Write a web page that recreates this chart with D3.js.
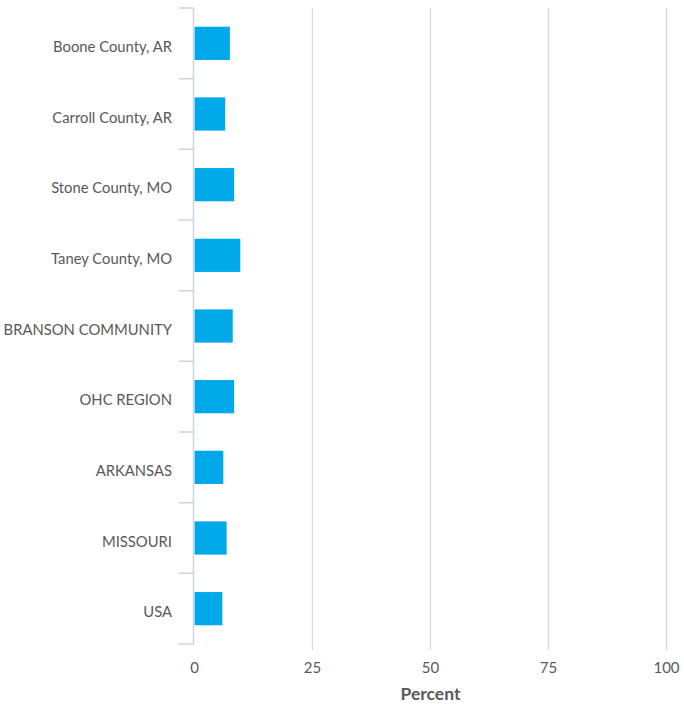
<!DOCTYPE html>
<html>
<head>
<meta charset="utf-8">
<script src="https://cdn.jsdelivr.net/npm/d3@7"></script>
<style>
  body { margin: 0; background: #fff; }
  svg text { font-family: "Source Sans Pro", Lato, "Open Sans", sans-serif; fill: #595959; }
</style>
</head>
<body>
<div id="chart"></div>
<script>
// categories top to bottom
const categories = ["Boone County, AR", "Carroll County, AR", "Stone County, MO", "Taney County, MO",
      "BRANSON COMMUNITY", "OHC REGION", "ARKANSAS", "MISSOURI", "USA"];
// percent values
const values = [7.5, 6.5, 8.4, 9.7, 8.1, 8.4, 6.1, 6.8, 5.9];
const xTicks = [0, 25, 50, 75, 100];
const xTitle = "Percent";

const w = 684;
const h = 704;
const plotLeft = 194.5, plotRight = 666.5, plotTop = 8, plotBottom = 644;

const data = categories.map((c, i) => ({ name: c, value: values[i] }));

const svg = d3.select("#chart")
      .append("svg")
      .attr("width", w)
      .attr("height", h);

const x = d3.scaleLinear().domain([0, 100]).range([plotLeft, plotRight]);
const y = d3.scaleBand().domain(categories).range([plotTop, plotBottom]).paddingInner(0.53).paddingOuter(0.265);
const band = d3.scaleBand().domain(categories).range([plotTop, plotBottom]);

//vertical gridlines
svg.selectAll(".grid")
      .data(xTicks.filter(d => d > 0))
      .enter()
      .append("line")
      .attr("x1", d => x(d))
      .attr("x2", d => x(d))
      .attr("y1", plotTop)
      .attr("y2", plotBottom + 6)
      .style("stroke", "#d9d9d9")
      .style("stroke-width", 1.3);

//bars
svg.selectAll(".bar")
      .data(data)
      .enter()
      .append("rect")
      .attr("x", x(0))
      .attr("y", d => y(d.name))
      .attr("width", d => x(d.value) - x(0))
      .attr("height", y.bandwidth())
      .style("fill", "#00a9ea");

//left axis line + ticks between categories
const axisColor = "#c9d5e3";
svg.append("line")
      .attr("x1", plotLeft - 1).attr("x2", plotLeft - 1)
      .attr("y1", plotTop).attr("y2", plotBottom)
      .style("stroke", axisColor)
      .style("stroke-width", 1.5);

const boundaries = categories.map(c => band(c)).concat([plotBottom]);
svg.selectAll(".ytick")
      .data(boundaries)
      .enter()
      .append("line")
      .attr("x1", plotLeft - 16)
      .attr("x2", plotLeft - 1)
      .attr("y1", d => d)
      .attr("y2", d => d)
      .style("stroke", axisColor)
      .style("stroke-width", 1.5);

//category labels
svg.selectAll(".ylabel")
      .data(categories)
      .enter()
      .append("text")
      .attr("x", 172)
      .attr("y", d => band(d) + band.bandwidth() / 2 + 3.5)
      .attr("dy", "0.35em")
      .attr("text-anchor", "end")
      .style("font-size", "14.8px")
      .text(d => d);

//x tick labels
svg.selectAll(".xlabel")
      .data(xTicks)
      .enter()
      .append("text")
      .attr("x", d => x(d))
      .attr("y", 668)
      .attr("dy", "0.35em")
      .attr("text-anchor", "middle")
      .style("font-size", "15px")
      .text(d => d);

svg.append("text")
      .attr("x", (plotLeft + plotRight) / 2)
      .attr("y", 694)
      .attr("dy", "0.35em")
      .attr("text-anchor", "middle")
      .style("font-size", "17.5px")
      .style("font-weight", "bold")
      .text(xTitle);
</script>
</body>
</html>
